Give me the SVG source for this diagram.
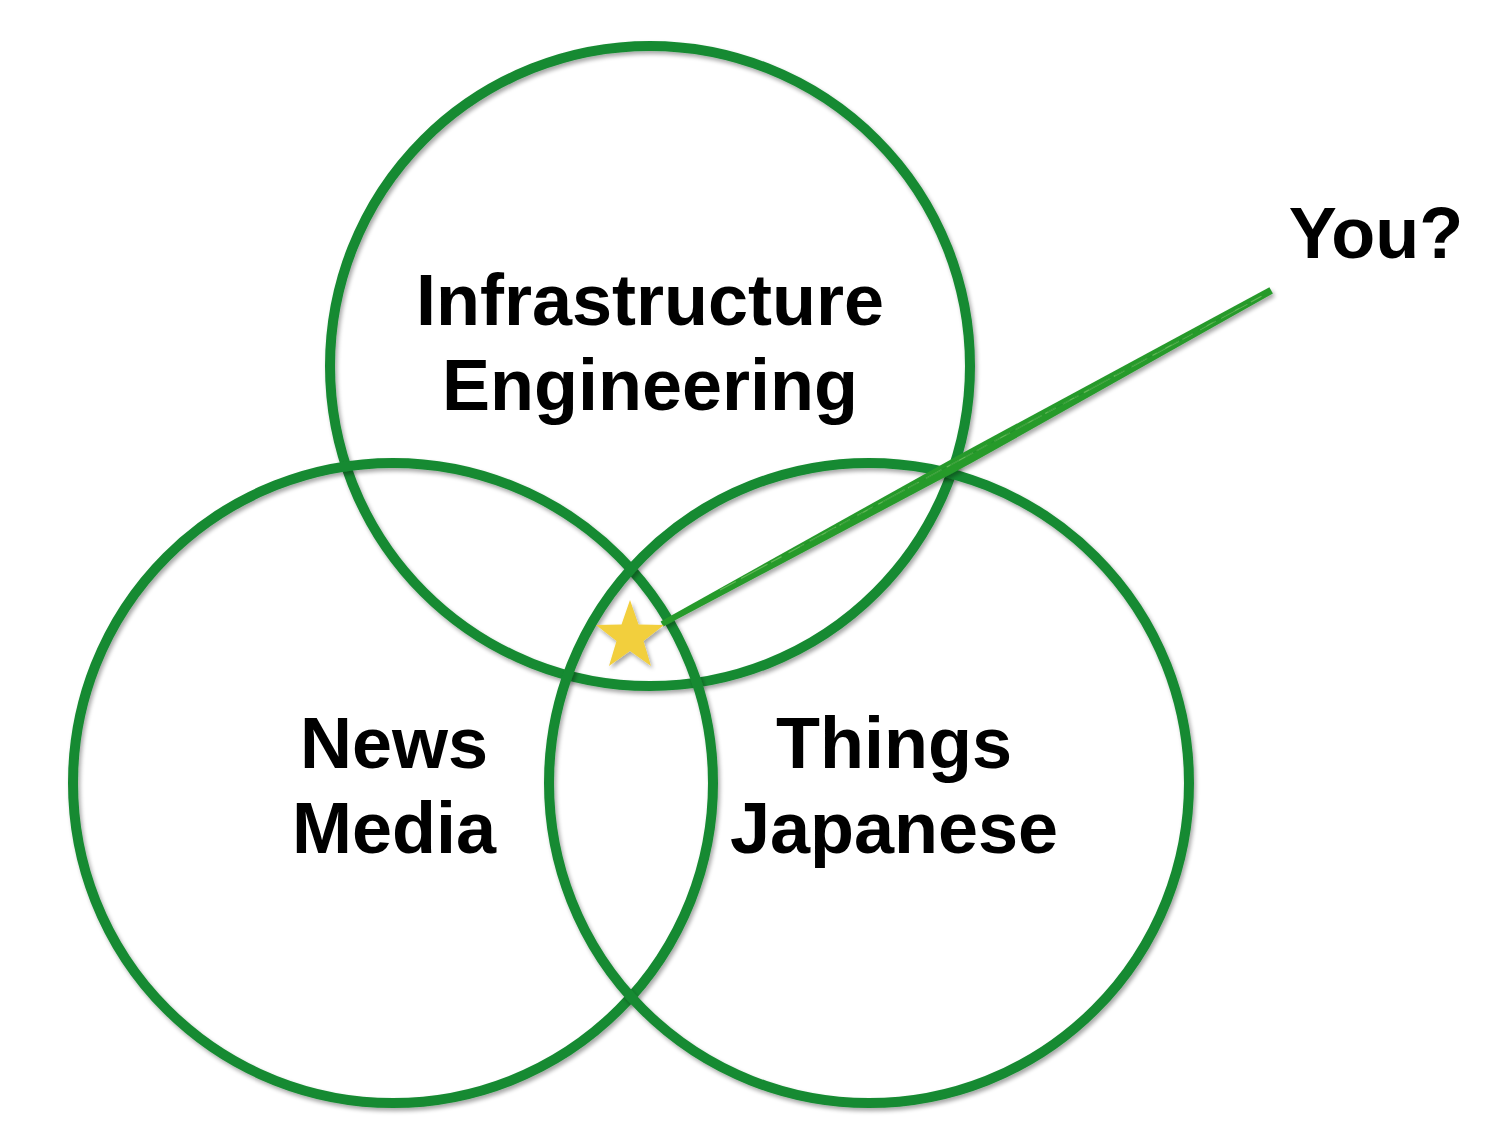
<svg xmlns="http://www.w3.org/2000/svg" width="1494" height="1146" viewBox="0 0 1494 1146">
<style>
.c{fill:none;stroke:#168a32;stroke-width:10}
.t{font-family:"Liberation Sans",Arial,sans-serif;font-weight:bold;font-size:72px;fill:#000;text-anchor:middle}
</style>
<defs>
<filter id="sh" x="-10%" y="-10%" width="120%" height="120%">
<feGaussianBlur in="SourceAlpha" stdDeviation="2"/>
<feOffset dx="2" dy="3" result="b"/>
<feComponentTransfer><feFuncA type="linear" slope="0.35"/></feComponentTransfer>
<feMerge><feMergeNode/><feMergeNode in="SourceGraphic"/></feMerge>
</filter>
</defs>
<rect width="1494" height="1146" fill="#fff"/>
<g id="circle-infra" filter="url(#sh)"><circle class="c" cx="650" cy="366" r="320"/></g>
<g id="circle-news" filter="url(#sh)"><circle class="c" cx="393" cy="783" r="320"/></g>
<g id="circle-japan" filter="url(#sh)"><circle class="c" cx="869" cy="783" r="320"/></g>
<g id="connectors" filter="url(#sh)">
<polygon fill="#279a2c" points="660.6,621.4 963.9,452.2 1269.4,287.3 1272.9,293.6 970.1,463.8 663.4,626.6"/>
<path d="M720,590 L1262,296" stroke="#7cc468" stroke-width="1.2" fill="none" opacity="0.7" stroke-dasharray="18 6 30 4 12 8"/>
<path d="M800,547 L1250,302" stroke="#1d8a26" stroke-width="1" fill="none" opacity="0.6" stroke-dasharray="25 5 10 7"/>
</g>
<g id="star" filter="url(#sh)">
<polygon fill="#f2cf3c" points="630,600 638.5,624.5 664,625 643.5,641 651,666 630,651 609,666 616.5,641 596,625 621.5,624.5"/>
</g>
<g id="label-infra">
<text class="t" x="650" y="325">Infrastructure</text>
<text class="t" x="650" y="410">Engineering</text>
</g>
<g id="label-news">
<text class="t" x="394" y="768">News</text>
<text class="t" x="394" y="853">Media</text>
</g>
<g id="label-japan">
<text class="t" x="894" y="768">Things</text>
<text class="t" x="894" y="853">Japanese</text>
</g>
<g id="label-you">
<text class="t" x="1376" y="258">You?</text>
</g>
</svg>
